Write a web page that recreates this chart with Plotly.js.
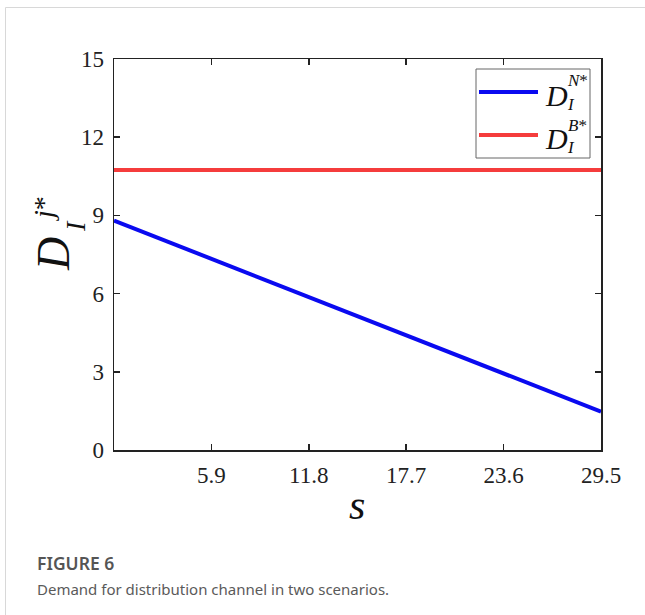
<!DOCTYPE html>
<html>
<head>
<meta charset="utf-8">
<script src="https://cdn.plot.ly/plotly-3.0.1.min.js"></script>
<style>
html,body{margin:0;padding:0;background:#fff;}
#chart{width:645px;height:615px;}
</style>
</head>
<body>
<div id="chart"></div>
<script>
// Data
var sValues = [0, 29.5];
var demandN = [8.8, 1.47];
var demandB = [10.74, 10.74];
var xTickVals = [5.9, 11.8, 17.7, 23.6, 29.5];
var xTickText = ["5.9", "11.8", "17.7", "23.6", "29.5"];
var yTickVals = [0, 3, 6, 9, 12, 15];
var yTickText = ["0", "3", "6", "9", "12", "15"];
var seriesNames = ["D_I^N*", "D_I^B*"];
var seriesColors = ["#0a0af0", "#f53c3c"];

var L = 114, R = 601, T = 59, B = 450;
function px(x){ return (x - L) / (R - L); }
function py(y){ return (B - y) / (B - T); }

var serif = "Liberation Serif, Times New Roman, serif";

var traces = [
  {x: sValues, y: demandN, mode: "lines", name: seriesNames[0],
   line: {color: seriesColors[0], width: 4}, showlegend: false},
  {x: sValues, y: demandB, mode: "lines", name: seriesNames[1],
   line: {color: seriesColors[1], width: 4}, showlegend: false}
];

var axisCommon = {
  showgrid: false, zeroline: false, showline: true, linecolor: "#222", linewidth: 1.5,
  mirror: "ticks", ticks: "inside", ticklen: 6, tickwidth: 1.5, tickcolor: "#222",
  tickfont: {family: serif, size: 23, color: "#222"}
};

var annotations = [
  // y-axis title pieces (rotated)
  {xref: "paper", yref: "paper", x: px(53), y: py(254), text: "<i>D</i>", showarrow: false,
   textangle: -90, font: {family: serif, size: 46, color: "#111"}, xanchor: "center", yanchor: "middle"},
  {xref: "paper", yref: "paper", x: px(75), y: py(226), text: "<i>I</i>", showarrow: false,
   textangle: -90, font: {family: serif, size: 28, color: "#111"}, xanchor: "center", yanchor: "middle"},
  {xref: "paper", yref: "paper", x: px(43), y: py(209), text: "<i>j</i>*", showarrow: false,
   textangle: -90, font: {family: serif, size: 28, color: "#111"}, xanchor: "center", yanchor: "middle"},
  // x-axis title
  {xref: "paper", yref: "paper", x: px(357), y: py(505), text: "<i>s</i>", showarrow: false,
   font: {family: serif, size: 42, color: "#111"}, xanchor: "center", yanchor: "middle"},
  // legend entry 1
  {xref: "paper", yref: "paper", x: px(556), y: py(95), text: "<i>D</i>", showarrow: false,
   font: {family: serif, size: 30, color: "#111"}, xanchor: "center", yanchor: "middle"},
  {xref: "paper", yref: "paper", x: px(577), y: py(81), text: "<i>N</i>*", showarrow: false,
   font: {family: serif, size: 17, color: "#111"}, xanchor: "center", yanchor: "middle"},
  {xref: "paper", yref: "paper", x: px(571), y: py(104), text: "<i>I</i>", showarrow: false,
   font: {family: serif, size: 17, color: "#111"}, xanchor: "center", yanchor: "middle"},
  // legend entry 2
  {xref: "paper", yref: "paper", x: px(556), y: py(138), text: "<i>D</i>", showarrow: false,
   font: {family: serif, size: 30, color: "#111"}, xanchor: "center", yanchor: "middle"},
  {xref: "paper", yref: "paper", x: px(577), y: py(125), text: "<i>B</i>*", showarrow: false,
   font: {family: serif, size: 17, color: "#111"}, xanchor: "center", yanchor: "middle"},
  {xref: "paper", yref: "paper", x: px(571), y: py(147), text: "<i>I</i>", showarrow: false,
   font: {family: serif, size: 17, color: "#111"}, xanchor: "center", yanchor: "middle"},
  // caption
  {xref: "paper", yref: "paper", x: px(35), y: py(563), text: "FIGURE 6", showarrow: false,
   font: {family: "Noto Sans, Open Sans, sans-serif", size: 17.5, color: "#555", weight: 600},
   xanchor: "left", yanchor: "middle"},
  {xref: "paper", yref: "paper", x: px(35), y: py(589), text: "Demand for distribution channel in two scenarios.", showarrow: false,
   font: {family: "Noto Sans, Open Sans, sans-serif", size: 15, color: "#5a5a5a"},
   xanchor: "left", yanchor: "middle"}
];

var shapes = [
  // card border
  {type: "line", xref: "paper", yref: "paper", x0: px(5.5), x1: px(645), y0: py(7.5), y1: py(7.5),
   line: {color: "#d8d8d8", width: 1}},
  {type: "line", xref: "paper", yref: "paper", x0: px(5.5), x1: px(5.5), y0: py(7.5), y1: py(615),
   line: {color: "#d8d8d8", width: 1}},
  // legend box
  {type: "rect", xref: "paper", yref: "paper", x0: px(476), x1: px(590), y0: py(158), y1: py(69),
   line: {color: "#666", width: 1}, fillcolor: "rgba(255,255,255,1)"},
  // legend lines
  {type: "line", xref: "paper", yref: "paper", x0: px(479), x1: px(538), y0: py(92), y1: py(92),
   line: {color: seriesColors[0], width: 4}},
  {type: "line", xref: "paper", yref: "paper", x0: px(479), x1: px(538), y0: py(135), y1: py(135),
   line: {color: seriesColors[1], width: 4}}
];

var layout = {
  width: 645, height: 615,
  margin: {l: L, r: 645 - R, t: T, b: 615 - B, pad: 0},
  paper_bgcolor: "#fff", plot_bgcolor: "#fff",
  showlegend: false,
  xaxis: Object.assign({}, axisCommon, {range: [0, 29.5], tickvals: xTickVals, ticktext: xTickText, ticklabelstandoff: 4}),
  yaxis: Object.assign({}, axisCommon, {range: [0, 15], tickvals: yTickVals, ticktext: yTickText, ticklabelstandoff: 4}),
  annotations: annotations,
  shapes: shapes
};

Plotly.newPlot("chart", traces, layout, {displayModeBar: false, staticPlot: true});
</script>
</body>
</html>
